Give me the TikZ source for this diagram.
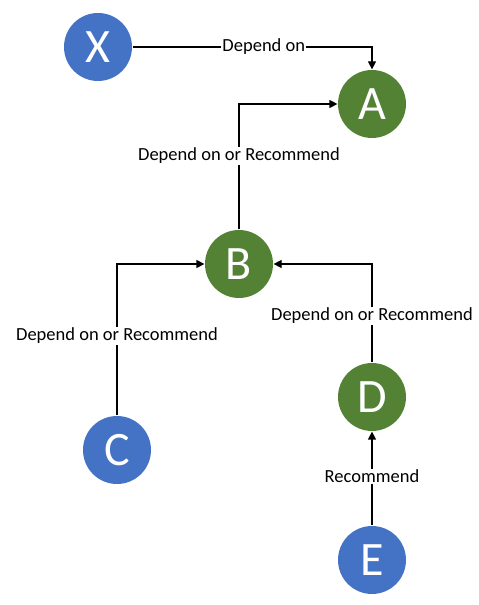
\documentclass[tikz,border=0pt]{standalone}
\usepackage{fontspec}
\setmainfont{Carlito}
\usetikzlibrary{arrows.meta}
\definecolor{pkgblue}{HTML}{4472C4}
\definecolor{pkggreen}{HTML}{548235}

\begin{document}
\begin{tikzpicture}[x=1pt, y=1pt, >={Triangle[length=8pt,width=8pt]}, line width=1.2pt,
    pkg/.style={circle, minimum size=68pt, inner sep=0pt, text=white, font=\fontsize{48}{48}\selectfont},
    ext/.style={pkg, fill=pkgblue},
    dep/.style={pkg, fill=pkggreen},
    rel/.style={fill=white, inner sep=1pt, text=black, font=\fontsize{18.5}{20}\selectfont}]
        \useasboundingbox (0,0) rectangle (479,605);
        % Packages
        \node [ext] (X) at (98,558) {X};
        \node [dep] (A) at (372,501) {A};
        \node [dep] (B) at (239,341) {B};
        \node [ext] (C) at (117,155) {C};
        \node [dep] (D) at (372,208) {D};
        \node [ext] (E) at (372,45) {E};
        % Relations
        \draw [->] (X.east) -| (A.north) node[rel, pos=0.274] {Depend on};
        \draw [->] (B.north) |- (A.west) node[rel, pos=0.294] {Depend on or Recommend};
        \draw [->] (C.north) |- (B.west) node[rel, pos=0.263] {Depend on or Recommend};
        \draw [->] (D.north) |- (B.east) node[rel, pos=0.237] {Depend on or Recommend};
        \draw [->] (E.north) -- (D.south) node[rel, pos=0.526] {Recommend};
    \end{tikzpicture}
\end{document}
